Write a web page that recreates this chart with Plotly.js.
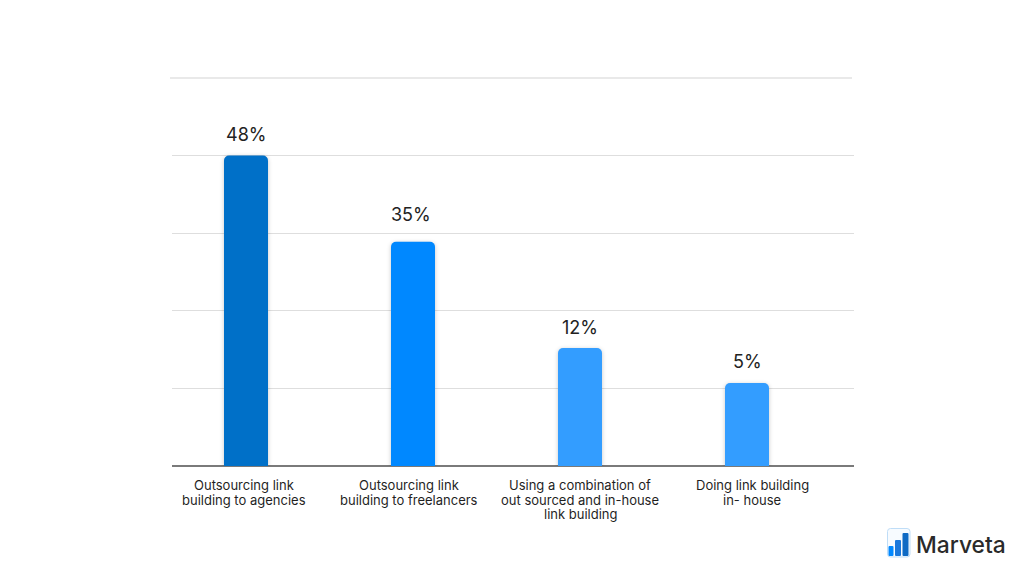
<!DOCTYPE html>
<html>
<head>
<meta charset="utf-8">
<script src="https://cdn.plot.ly/plotly-3.0.1.min.js"></script>
<style>
html,body{margin:0;padding:0;background:#fff}
#chart{width:1024px;height:576px}
.barlayer .point path{filter:drop-shadow(0 1px 2px rgba(0,0,0,.22))}
</style>
</head>
<body>
<div id="chart"></div>
<script>
// Data. Bar heights are what the picture draws, on its unlabelled gridded axis;
// the printed labels are kept separately because the drawn heights do not follow them.
const barPositions = [0, 1, 2, 3];
const barHeights = [40, 28.9, 15.2, 10.7];
const valueLabels = ['48%', '35%', '12%', '5%'];
const categoryLines = [
  ['Outsourcing link', 'building to agencies'],
  ['Outsourcing link', 'building to freelancers'],
  ['Using a combination of', 'out sourced and in-house', 'link building'],
  ['Doing link building', 'in- house']
];
const barColors = ['#0070C8', '#0088FF', '#339DFF', '#339DFF'];
const gridValues = [10, 20, 30, 40];
const axisMax = 50;
const brandName = 'Marveta';

// Layout tuning
const W = 1024, H = 576, L = 172, R = 854, T = 78, B = 466;
const unit = 167;
const labelDx = [0, -2, 0, 0];
const labelDy = [9, 15, 8, 9];
const catDx = [-2, -4, 0, 5];
const px = x => (x - L) / (R - L);
const py = y => (B - y) / (B - T);
const font = 'Inter';

const annotations = [];
barPositions.forEach((p, i) => {
  annotations.push({
    x: p, y: barHeights[i], xref: 'x', yref: 'y', text: valueLabels[i], showarrow: false,
    xanchor: 'center', yanchor: 'bottom', xshift: labelDx[i], yshift: labelDy[i],
    font: {family: font, size: 18, color: '#222222'}
  });
  categoryLines[i].forEach((line, k) => {
    annotations.push({
      x: p, y: 0, xref: 'x', yref: 'y', text: line, showarrow: false,
      xanchor: 'center', yanchor: 'middle', xshift: catDx[i], yshift: -(19 + 14.5 * k),
      font: {family: font, size: 13, color: '#1f1f1f'}
    });
  });
});
annotations.push({
  xref: 'paper', yref: 'paper', x: px(914), y: py(544), text: brandName, showarrow: false,
  xanchor: 'left', yanchor: 'middle', font: {family: font, size: 22.8, color: '#2a2a2a', weight: 500}
});

const rr = (x0, y0, x1, y1, r) =>
  `M${px(x0)},${py(y0 + r)} Q${px(x0)},${py(y0)} ${px(x0 + r)},${py(y0)} L${px(x1 - r)},${py(y0)} ` +
  `Q${px(x1)},${py(y0)} ${px(x1)},${py(y0 + r)} L${px(x1)},${py(y1 - r)} Q${px(x1)},${py(y1)} ${px(x1 - r)},${py(y1)} ` +
  `L${px(x0 + r)},${py(y1)} Q${px(x0)},${py(y1)} ${px(x0)},${py(y1 - r)} Z`;

const shapes = [
  {type: 'line', xref: 'paper', yref: 'paper', x0: px(170), x1: px(852), y0: py(78), y1: py(78),
   line: {color: '#E2E2E2', width: 1.5}},
  {type: 'path', xref: 'paper', yref: 'paper', path: rr(887.5, 528.5, 910, 557, 3),
   line: {color: '#BFDDF7', width: 1}, fillcolor: '#F7FBFF'},
  {type: 'path', xref: 'paper', yref: 'paper', path: rr(888.5, 546, 893.5, 556, 1),
   line: {width: 0}, fillcolor: '#0088FF'},
  {type: 'path', xref: 'paper', yref: 'paper', path: rr(895, 540, 901, 556, 1),
   line: {width: 0}, fillcolor: '#1A78DC'},
  {type: 'path', xref: 'paper', yref: 'paper', path: rr(902.5, 533, 908.5, 556, 1),
   line: {width: 0}, fillcolor: '#0F6AC4'}
];

Plotly.newPlot('chart', [{
  type: 'bar',
  x: barPositions,
  y: barHeights,
  width: 44 / unit,
  marker: {color: barColors, line: {width: 0}},
  hoverinfo: 'skip'
}], {
  width: W, height: H,
  margin: {l: L, r: W - R, t: T, b: H - B, pad: 0},
  paper_bgcolor: '#ffffff', plot_bgcolor: '#ffffff',
  showlegend: false,
  barcornerradius: 5,
  xaxis: {
    range: [(L - 246) / unit, (R - 246) / unit],
    showgrid: false, zeroline: false, showticklabels: false, ticks: '',
    showline: false
  },
  yaxis: {
    range: [0, axisMax], tickvals: gridValues, showticklabels: false, ticks: '',
    showgrid: true, gridcolor: '#DEDEDE', gridwidth: 1.2,
    zeroline: true, zerolinecolor: '#7A7A7A', zerolinewidth: 1.5, showline: false
  },
  annotations, shapes
}, {displayModeBar: false, staticPlot: true});
</script>
</body>
</html>
